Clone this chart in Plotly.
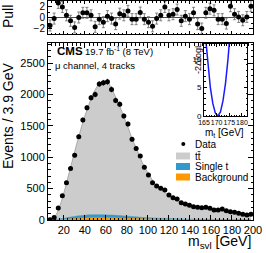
import plotly.graph_objects as go

W, H = 266, 253

# ---- data (50 bins of 3.9 GeV from 5 to 200) ----
bin_lo = 5.0
bin_w = 3.9
n_bins = 50
data = [5, 40, 193, 385, 594, 820, 1032, 1327, 1592, 1788, 1948, 2000, 2166, 2186, 2202,
        2081, 1905, 1845, 1656, 1529, 1285, 1141, 1019, 839, 717, 594, 541, 505, 478, 398,
        355, 334, 276, 255, 235, 212, 202, 196, 202, 186, 159, 159, 175, 148, 132, 122, 106,
        90, 80, 90]
mc_total = [8, 41, 156, 348, 584, 837, 1090, 1327, 1558, 1752, 1930, 2076, 2170, 2210, 2195,
            2095, 1957, 1815, 1640, 1482, 1296, 1151, 990, 848, 740, 633, 546, 496, 436, 390,
            344, 308, 286, 252, 240, 222, 205, 192, 180, 170, 160, 150, 142, 134, 127, 120,
            113, 107, 101, 95]
single_t = [0, 2, 7, 13, 20, 27, 33, 38, 42, 45, 47, 48, 48, 47, 46, 44, 42, 39, 36, 33, 30,
            27, 24, 21, 19, 17, 15, 13, 12, 11, 10, 9, 8, 7, 7, 6, 6, 5, 5, 5, 4, 4, 4, 4, 3,
            3, 3, 3, 3, 3]
background = [0, 2, 6, 10, 15, 20, 24, 28, 31, 33, 35, 36, 36, 36, 35, 34, 33, 31, 29, 27, 25,
              23, 21, 19, 17, 16, 14, 13, 12, 11, 10, 9, 8, 8, 7, 7, 6, 6, 5, 5, 5, 4, 4, 4, 4,
              3, 3, 3, 3, 3]
pull = [-1.45, -0.2, 2.65, 1.9, 0.4, -0.6, -1.8, 0.0, 0.85, 0.85, 0.4, -1.7, -0.3, -0.85, 0.25,
        -0.2, -1.2, 0.7, 0.4, 1.2, -0.3, -0.3, 0.9, -0.3, -0.85, -1.6, -0.2, 0.4, 1.9, 0.4, 0.6,
        1.45, -0.6, 0.25, -0.3, 0.85, -1.2, -2.0, 0.85, 1.6, 1.3, -0.3, -0.3, -1.1, 2.05, 0.6,
        0.1, -0.5, 0.1, 2.05]

# inset likelihood scan
mt_scan = [165.5, 166.5, 167.5, 168.5, 169.5, 170.5, 171.5, 172.5, 173.5, 174.5, 175.5]
nll_scan = [14.4, 9.1, 5.05, 2.17, 0.49, 0.0, 0.73, 2.65, 5.77, 10.1, 15.6]

main_x_ticks = [20, 40, 60, 80, 100, 120, 140, 160, 180, 200]
main_y_ticks = [0, 500, 1000, 1500, 2000, 2500]
pull_y_ticks = [-2, 0, 2]
inset_x_ticks = [165, 170, 175, 180]
inset_y_ticks = [0, 5, 10]

centers = [bin_lo + bin_w * (i + 0.5) for i in range(n_bins)]
data_err = [max(v, 0) ** 0.5 for v in data]
bkg_single = [a + b for a, b in zip(background, single_t)]

GREY = "#cccccc"
BLUE = "#3399cc"
ORANGE = "#ff9900"
FONT = "Liberation Sans"

def px(x):
    return x / W

def py(y):
    return 1 - y / H

fig = go.Figure()

# stacked MC
fig.add_trace(go.Scatter(x=centers, y=mc_total, mode="lines", line=dict(color="#999999", width=0.8, shape="spline"),
                         fill="tozeroy", fillcolor=GREY, xaxis="x", yaxis="y", showlegend=False))
fig.add_trace(go.Scatter(x=centers, y=bkg_single, mode="lines", line=dict(color=BLUE, width=0.5, shape="spline"),
                         fill="tozeroy", fillcolor=BLUE, xaxis="x", yaxis="y", showlegend=False))
fig.add_trace(go.Scatter(x=centers, y=background, mode="lines", line=dict(color=ORANGE, width=0.5, shape="spline"),
                         fill="tozeroy", fillcolor=ORANGE, xaxis="x", yaxis="y", showlegend=False))
# data
fig.add_trace(go.Scatter(x=centers, y=data, mode="markers",
                         marker=dict(color="black", size=5),
                         error_y=dict(type="data", array=data_err, color="black", thickness=0.8, width=0),
                         xaxis="x", yaxis="y", showlegend=False))

# pull panel
fig.add_trace(go.Scatter(x=[bin_lo, 200], y=[0, 0], mode="lines", line=dict(color="#3344cc", width=1),
                         xaxis="x2", yaxis="y2", showlegend=False))
fig.add_trace(go.Scatter(x=centers, y=pull, mode="markers",
                         marker=dict(color="black", size=5),
                         error_y=dict(type="constant", value=1, color="#666666", thickness=0.8, width=1.5),
                         xaxis="x2", yaxis="y2", showlegend=False))

# inset
fig.add_trace(go.Scatter(x=mt_scan, y=nll_scan, mode="lines", line=dict(color="#1a1aff", width=1.5),
                         xaxis="x3", yaxis="y3", showlegend=False))

common_axis = dict(showline=True, linecolor="black", linewidth=1, mirror="allticks", ticks="inside",
                   showgrid=False, zeroline=False, tickcolor="black", tickfont=dict(family=FONT, size=11, color="black"))

xdom = [px(48), px(253)]
fig.update_layout(
    autosize=True, margin=dict(l=0, r=0, t=0, b=0, autoexpand=False),
    paper_bgcolor="white", plot_bgcolor="white",
    xaxis=dict(**common_axis, domain=xdom, range=[bin_lo, 200], anchor="y", tickvals=main_x_ticks, tickangle=0,
               ticklen=5, minor=dict(dtick=4, tick0=0, ticks="inside", ticklen=2.5, tickcolor="black")),
    yaxis=dict(**common_axis, domain=[py(220), py(43)], range=[0, 2820], anchor="x", tickvals=main_y_ticks,
               ticklen=5, minor=dict(dtick=100, ticks="inside", ticklen=2.5, tickcolor="black")),
    xaxis2=dict(**common_axis, domain=xdom, range=[bin_lo, 200], anchor="y2", tickvals=main_x_ticks,
                showticklabels=False, ticklen=3, minor=dict(dtick=4, tick0=0, ticks="inside", ticklen=1.5, tickcolor="black")),
    yaxis2=dict(**common_axis, domain=[py(34), py(1)], range=[-3, 3], anchor="x2", tickvals=pull_y_ticks,
                ticklen=4, minor=dict(dtick=1, ticks="inside", ticklen=2, tickcolor="black")),
    xaxis3=dict(**common_axis, domain=[px(204), px(247)], range=[165, 182], anchor="y3", tickvals=inset_x_ticks,
                tickangle=0, ticklen=3, minor=dict(dtick=1, ticks="inside", ticklen=1.5, tickcolor="black")),
    yaxis3=dict(**common_axis, domain=[py(116), py(44)], range=[0, 12.7], anchor="x3", tickvals=inset_y_ticks,
                ticklen=3, minor=dict(dtick=1, ticks="inside", ticklen=1.5, tickcolor="black")),
)
fig.update_layout(xaxis3_tickfont_size=7, yaxis3_tickfont_size=8, yaxis2_tickfont_size=10)

ann = []
def text(x, y, t, size, xanchor="left", yanchor="middle", angle=0):
    ann.append(dict(x=px(x), y=py(y), xref="paper", yref="paper", text=t, showarrow=False,
                    xanchor=xanchor, yanchor=yanchor, textangle=angle,
                    font=dict(family=FONT, size=size, color="black")))

text(8, 17, "Pull", 14, xanchor="center", angle=-90)
text(8, 116, "Events / 3.9 GeV", 14, xanchor="center", angle=-90)
text(253, 253, "m<sub>svl</sub> [GeV]", 14, xanchor="right", yanchor="bottom")
text(55, 51, "<b>CMS</b>", 11.5)
text(83, 51, "19.7 fb<sup>-1</sup> (8 TeV)", 9.5)
text(53, 65, "μ channel, 4 tracks", 9.5)
text(198, 59, "-2ΔlogL", 9, xanchor="center", angle=-90)
text(246, 125, "m<sub>t</sub> [GeV]", 10, xanchor="right", yanchor="top")
# legend
text(193, 144, "Data", 10)
text(193, 156.5, "tt\u0304", 10)
text(193, 166.5, "Single t", 10)
text(193, 177, "Background", 10)
fig.update_layout(annotations=ann)

fig.add_shape(type="circle", xref="paper", yref="paper", x0=px(181.3), x1=px(185.3), y0=py(146), y1=py(142),
              fillcolor="black", line=dict(width=0))
for (y0, y1, c) in [(152.5, 159.5, GREY), (163, 170, BLUE), (173.5, 180.5, ORANGE)]:
    fig.add_shape(type="rect", xref="paper", yref="paper", x0=px(176), x1=px(190), y0=py(y1), y1=py(y0),
                  fillcolor=c, line=dict(width=0))

# figure is W x H; the div is pinned to the page's top-left corner
fig.write_html("out.html", config={"displayModeBar": False, "responsive": False},
               default_width=f"{W}px;position:absolute;left:0;top:0",
               default_height=f"{H}px")
